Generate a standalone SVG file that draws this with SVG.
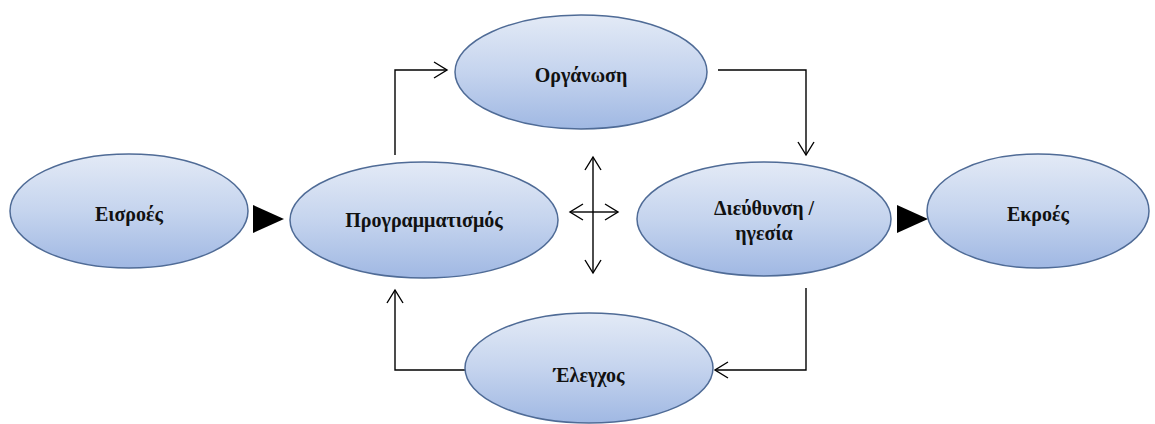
<svg xmlns="http://www.w3.org/2000/svg" width="1155" height="424" viewBox="0 0 1155 424">
<defs>
<linearGradient id="g" x1="0" y1="0" x2="0" y2="1">
<stop offset="0" stop-color="#e3eaf6"/>
<stop offset="0.5" stop-color="#c5d4ee"/>
<stop offset="1" stop-color="#a0b8e3"/>
</linearGradient>
<marker id="open" markerWidth="16" markerHeight="18" refX="14" refY="9" orient="auto" markerUnits="userSpaceOnUse">
<path d="M1,1 L14,9 L1,17" fill="none" stroke="#000" stroke-width="1.4"/>
</marker>
</defs>
<style>
.n ellipse{fill:url(#g);stroke:#4f6b96;stroke-width:1.5}
.n text{font-family:"Liberation Serif","Times New Roman",serif;font-weight:bold;font-size:20px;fill:#111;text-anchor:middle}
.c path{fill:none;stroke:#000;stroke-width:1.4}
.c polygon{fill:#000}
</style>
<rect width="1155" height="424" fill="#fff"/>
<g id="connectors" class="c">
<path d="M395,155 V70 H447" marker-end="url(#open)"/>
<path d="M718,70 H806 V155" marker-end="url(#open)"/>
<path d="M806,288 V370 H715" marker-end="url(#open)"/>
<path d="M465,370 H395 V290" marker-end="url(#open)"/>
<path d="M593,212 V157" marker-end="url(#open)"/>
<path d="M593,212 V273" marker-end="url(#open)"/>
<path d="M593,212 H570" marker-end="url(#open)"/>
<path d="M593,212 H618" marker-end="url(#open)"/>
<polygon points="253,205 284,219 253,233"/>
<polygon points="897,205 928,219 897,233"/>
</g>
<g id="eisroes" class="n"><ellipse cx="129" cy="211" rx="119" ry="57"/><text x="129" y="221">Εισροές</text></g>
<g id="programmatismos" class="n"><ellipse cx="424" cy="220" rx="134" ry="58"/><text x="424" y="227">Προγραμματισμός</text></g>
<g id="organosi" class="n"><ellipse cx="581" cy="72" rx="126" ry="57"/><text x="581" y="82">Οργάνωση</text></g>
<g id="dieuthinsi" class="n"><ellipse cx="764" cy="219" rx="127" ry="57"/><text x="764" y="215">Διεύθυνση /</text><text x="764" y="240">ηγεσία</text></g>
<g id="ekroes" class="n"><ellipse cx="1038" cy="211" rx="111" ry="57"/><text x="1038" y="221">Εκροές</text></g>
<g id="elegxos" class="n"><ellipse cx="589" cy="368" rx="124" ry="55"/><text x="589" y="382">Έλεγχος</text></g>
</svg>
